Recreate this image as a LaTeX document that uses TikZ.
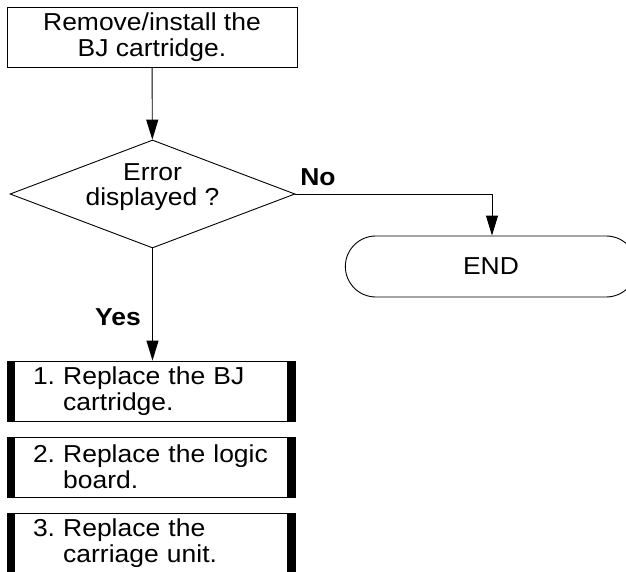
\documentclass[tikz,border=0pt]{standalone}
\usepackage{fontspec}
\setmainfont[FakeStretch=1.08]{Liberation Sans}
\usepackage{tikz}
\usetikzlibrary{positioning,shapes.geometric,shapes.misc,arrows.meta}
\frenchspacing
\tikzset{
  box/.style={draw=black,line width=0.9pt,fill=white,minimum width=290pt,minimum height=60pt,
    inner sep=0pt,align=center},
  check/.style={diamond,draw=black,line width=0.9pt,aspect=2.64,minimum width=285pt,
    minimum height=108pt,inner sep=-10pt},
  term/.style={rounded rectangle,draw=black,line width=0.9pt,minimum width=298pt,minimum height=61pt},
  fix/.style={box,minimum width=288pt,text width=236pt,inner xsep=26pt,align=left,
    path picture={
      \fill[black] (path picture bounding box.north west) rectangle ([xshift=8pt]path picture bounding box.south west);
      \fill[black] (path picture bounding box.north east) rectangle ([xshift=-8pt]path picture bounding box.south east);}},
  flow/.style={draw=black,line width=0.9pt,-{Triangle[length=20pt,width=12pt]}},
  answer/.style={font=\fontsize{24.5}{25.6}\selectfont\bfseries},
}

\begin{document}
\begin{tikzpicture}[x=1pt,y=-1pt,every node/.style={font=\fontsize{24.5}{25.6}\selectfont}]
  \useasboundingbox (0,0) rectangle (626,572);
  \clip (0,0) rectangle (626,572);
  \node[box] (load) at (152,37) {Remove/install the\\BJ cartridge.};
  \node[check] (err) at (152.5,194)
    {\raisebox{0pt}[\height][\dimexpr\depth+12pt]{\begin{tabular}{@{}c@{}}Error\\displayed ?\end{tabular}}};
  \node[term] (end) at (491,266.5) {END};
  \foreach \n/\y/\txt in {fixa/391/{1. Replace the BJ\\\hphantom{1. }cartridge.},
      fixb/467/{2. Replace the logic\\\hphantom{2. }board.},
      fixc/543/{3. Replace the\\\hphantom{3. }carriage unit.}}
    \node[fix] (\n) at (151,\y) {\txt};
  \coordinate (turn) at (492,194);
  \draw[flow] (load) -- (err);
  \draw[flow] (err.east) -- (turn) -- (turn |- end.north);
  \draw[flow] (err.south) -- (fixa.north -| err.south);
  \node[answer] (no) at (318,177) {No};
  \node[answer] (yes) at (118,317) {Yes};
\end{tikzpicture}
\end{document}
